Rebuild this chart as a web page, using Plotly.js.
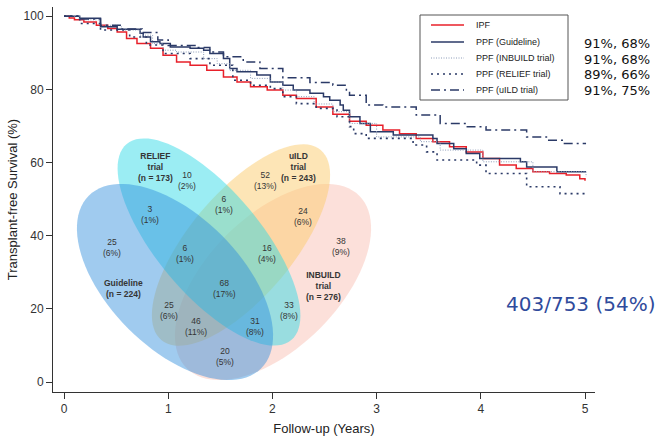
<!DOCTYPE html>
<html>
<head>
<meta charset="utf-8">
<script src="https://cdn.plot.ly/plotly-3.0.1.min.js"></script>
<style>html,body{margin:0;padding:0;background:#fff;}#chart{width:660px;height:436px;}</style>
</head>
<body>
<div id="chart"></div>
<script>
// ---------- Kaplan-Meier data (years, % transplant-free survival) ----------
const ipfTime = [0, 0.05, 0.1, 0.19, 0.31, 0.42, 0.51, 0.6, 0.7, 0.83, 0.95, 1.08, 1.21, 1.37, 1.53, 1.66, 1.79, 1.95, 2.10, 2.23, 2.42, 2.58, 2.74, 2.90, 3.06, 3.22, 3.38, 3.54, 3.70, 3.86, 4.02, 4.18, 4.34, 4.50, 4.66, 4.82, 4.95, 5.0];
const ipfSurv = [100, 99.5, 99, 98.4, 97.5, 96.6, 95.7, 93.9, 92.5, 91.2, 89.3, 87.5, 86.6, 85.2, 83.4, 82.0, 80.7, 79.8, 78.4, 77.5, 75.2, 73.2, 71.3, 70.2, 68.9, 67.9, 66.6, 65.7, 64.3, 62.9, 61.1, 59.3, 58.4, 57.5, 57.0, 56.6, 55.6, 55.0];

const guideTime = [0, 0.15, 0.35, 0.51, 0.73, 0.76, 0.83, 0.92, 1.02, 1.21, 1.34, 1.40, 1.53, 1.59, 1.66, 1.85, 1.98, 2.10, 2.20, 2.36, 2.49, 2.55, 2.65, 2.68, 2.74, 2.84, 2.94, 3.16, 3.54, 3.58, 3.74, 3.86, 3.99, 4.38, 4.44, 4.73, 5.01];
const guideSurv = [100, 99.4, 97.1, 96.4, 95.3, 94.3, 93.0, 92.5, 91.6, 91.2, 90.7, 89.8, 88.4, 85.7, 84.8, 83.9, 82.0, 81.1, 79.8, 78.9, 78.0, 77.0, 75.7, 74.3, 72.5, 70.7, 68.4, 67.5, 66.6, 65.2, 63.8, 62.5, 61.1, 60.2, 58.8, 57.5, 57.5];

const inbuildTime = [0, 0.15, 0.35, 0.55, 0.73, 0.85, 0.95, 1.08, 1.34, 1.47, 1.59, 1.79, 1.98, 2.10, 2.23, 2.40, 2.58, 2.74, 3.00, 3.42, 3.61, 4.02, 4.50, 5.01];
const inbuildSurv = [100, 99, 97.5, 96.2, 94.8, 92.5, 90.7, 90.2, 88.4, 87.0, 85.2, 83.0, 82.0, 79.8, 78.0, 76.0, 73.9, 70.7, 67.0, 65.7, 63.4, 60.2, 57.5, 56.1];

const reliefTime = [0, 0.15, 0.35, 0.63, 0.79, 0.95, 1.21, 1.40, 1.62, 1.79, 1.98, 2.10, 2.23, 2.42, 2.62, 2.74, 2.78, 2.90, 3.35, 3.48, 3.58, 3.96, 4.05, 4.44, 4.76, 5.01];
const reliefSurv = [100, 98.0, 96.2, 94.3, 92.1, 89.8, 88.4, 86.6, 82.5, 81.1, 80.2, 78.0, 76.1, 74.8, 72.5, 69.8, 67.9, 66.6, 64.8, 62.9, 60.7, 59.3, 57.0, 53.4, 51.5, 51.5];

const uildTime = [0, 0.15, 0.35, 0.55, 0.75, 0.9, 1.0, 1.27, 1.40, 1.53, 1.72, 1.88, 2.10, 2.36, 2.58, 2.71, 2.74, 2.90, 3.06, 3.38, 3.61, 3.86, 4.05, 4.44, 4.63, 4.79, 5.01];
const uildSurv = [100, 99.2, 97.5, 96.5, 95.5, 93.5, 92.0, 91.4, 90.2, 88.9, 87.5, 85.7, 83.2, 81.9, 81.1, 79.8, 78.4, 75.7, 75.2, 73.0, 70.7, 69.8, 68.9, 67.0, 66.1, 65.2, 65.2];

const seriesNames = ["IPF", "PPF (Guideline)", "PPF (INBUILD trial)", "PPF (RELIEF trial)", "PPF (uILD trial)"];
// 1-year and 3-year survival text per PPF definition
const survText = ["91%, 68%", "91%, 68%", "89%, 66%", "91%, 75%"];
const totalText = "403/753 (54%)";

const xTicks = [0, 1, 2, 3, 4, 5];
const yTicks = [0, 20, 40, 60, 80, 100];

// ---------- Venn data ----------
const setNames = ["Guideline", "RELIEF<br>trial", "uILD<br>trial", "INBUILD<br>trial"];
const setN = [224, 173, 243, 276];
const regionCounts = [25, 10, 52, 38, 3, 6, 24, 6, 16, 68, 25, 46, 33, 31, 20];
const regionPct    = [6, 2, 13, 9, 1, 1, 6, 1, 4, 17, 6, 11, 8, 8, 5];

// ---------- layout geometry (pixels in the 660x436 frame) ----------
const M = {l: 53, r: 65, t: 7, b: 44};
const FW = 660, FH = 436;
const PW = FW - M.l - M.r, PH = FH - M.t - M.b;
const px2x = p => (p - M.l) / PW;
const py2y = p => (FH - M.b - p) / PH;

// ellipses: [cx, cy, a, b, rotation deg], colour
const ellGeom = {
  Guideline: {g: [175, 282, 122, 66, 45], c: "rgba(45,140,220,0.45)"},
  RELIEF:    {g: [209, 242, 128, 52, 50], c: "rgba(45,218,230,0.48)"},
  uILD:      {g: [241, 245, 124, 52, -50], c: "rgba(252,204,110,0.5)"},
  INBUILD:   {g: [273, 282, 122, 66, -45], c: "rgba(248,190,178,0.48)"}
};
const drawOrder = ["INBUILD", "uILD", "RELIEF", "Guideline"];

function ellipsePath(g) {
  const [cx, cy, a, b, rot] = g;
  const th = rot * Math.PI / 180;
  let d = "";
  for (let i = 0; i <= 96; i++) {
    const f = 2 * Math.PI * i / 96;
    const dx = a * Math.cos(f) * Math.cos(th) - b * Math.sin(f) * Math.sin(th);
    const dy = a * Math.cos(f) * Math.sin(th) + b * Math.sin(f) * Math.cos(th);
    d += (i === 0 ? "M" : "L") + px2x(cx + dx).toFixed(5) + "," + py2y(cy + dy).toFixed(5);
  }
  return d + "Z";
}

const shapes = drawOrder.map(k => ({
  type: "path", xref: "paper", yref: "paper", layer: "below",
  path: ellipsePath(ellGeom[k].g), fillcolor: ellGeom[k].c, line: {width: 0}
}));

// text positions for Venn labels
const setLabelPos = [[123, 288], [155, 167], [298, 167], [323, 286]];
const regionPos = [[112, 247], [187, 180], [265, 180], [341, 246], [150, 215], [224, 205], [303, 216],
                   [185, 253], [267, 253], [224, 288], [169, 310], [196, 326], [289, 310], [255, 326], [225, 356]];

const vennFont = {family: "Liberation Sans, Arial, sans-serif", size: 8.5, color: "#353535"};
const annotations = [];
setNames.forEach((s, i) => annotations.push({
  xref: "paper", yref: "paper", x: px2x(setLabelPos[i][0]), y: py2y(setLabelPos[i][1]),
  text: "<b>" + s + "<br>(n = " + setN[i] + ")</b>", showarrow: false, font: vennFont,
  xanchor: "center", yanchor: "middle"
}));
regionCounts.forEach((c, i) => annotations.push({
  xref: "paper", yref: "paper", x: px2x(regionPos[i][0]), y: py2y(regionPos[i][1]),
  text: c + "<br>(" + regionPct[i] + "%)", showarrow: false, font: vennFont,
  xanchor: "center", yanchor: "middle"
}));

// ---------- drawn legend box ----------
const legBox = {x0: 420, x1: 568, y0: 15, y1: 100};
const legRowY = [25, 42, 58, 74, 90];
const navy = "#2b3a67";
const lineStyles = [
  {color: "#e8202a", width: 1.5},
  {color: navy, width: 1.5},
  {color: "#8d9cb8", width: 1, dash: "1px,1.5px"},
  {color: navy, width: 1.6, dash: "2px,4px"},
  {color: navy, width: 1.5, dash: "9px,4px,2px,4px"}
];
shapes.push({type: "rect", xref: "paper", yref: "paper", x0: px2x(legBox.x0), x1: px2x(legBox.x1),
             y0: py2y(legBox.y0), y1: py2y(legBox.y1), line: {color: "#555", width: 1}, fillcolor: "#fff", layer: "above"});
seriesNames.forEach((nm, i) => {
  shapes.push({type: "line", xref: "paper", yref: "paper", x0: px2x(431), x1: px2x(464),
               y0: py2y(legRowY[i]), y1: py2y(legRowY[i]), line: lineStyles[i], layer: "above"});
  annotations.push({xref: "paper", yref: "paper", x: px2x(474), y: py2y(legRowY[i]), text: nm,
                    showarrow: false, xanchor: "left", yanchor: "middle",
                    font: {family: "Liberation Sans, Arial, sans-serif", size: 9, color: "#222"}});
});
survText.forEach((s, i) => annotations.push({
  xref: "paper", yref: "paper", x: px2x(582), y: py2y(legRowY[i + 1] + 1), text: s,
  showarrow: false, xanchor: "left", yanchor: "middle",
  font: {family: "DejaVu Sans, Verdana, sans-serif", size: 13, color: "#111"}
}));
annotations.push({
  xref: "paper", yref: "paper", x: px2x(581), y: py2y(304), text: totalText, showarrow: false,
  xanchor: "center", yanchor: "middle",
  font: {family: "DejaVu Sans, Verdana, sans-serif", size: 20, color: "#2f4b9c"}
});

const series = [[ipfTime, ipfSurv], [guideTime, guideSurv], [inbuildTime, inbuildSurv], [reliefTime, reliefSurv], [uildTime, uildSurv]];
const traces = series.map((s, i) => ({
  type: "scatter", mode: "lines", hoverinfo: "skip", x: s[0], y: s[1], name: seriesNames[i],
  line: Object.assign({shape: "hv"}, lineStyles[i])
}));

const axFont = {family: "Liberation Sans, Arial, sans-serif", size: 12, color: "#333"};
const layout = {
  width: FW, height: FH, margin: M,
  paper_bgcolor: "#fff", plot_bgcolor: "#fff",
  font: axFont,
  showlegend: false,
  xaxis: {range: [-0.106, 5.096], tickvals: xTicks, ticks: "outside", ticklen: 6, tickcolor: "#333",
          showline: true, linecolor: "#333", linewidth: 1, showgrid: false, zeroline: false,
          tickfont: axFont, title: {text: "Follow-up (Years)", font: {family: "Liberation Sans, Arial, sans-serif", size: 13, color: "#222"}, standoff: 8}},
  yaxis: {range: [-2.7, 102.5], tickvals: yTicks, ticks: "outside", ticklen: 6, tickcolor: "#333",
          showline: true, linecolor: "#333", linewidth: 1, showgrid: false, zeroline: false,
          tickfont: axFont, title: {text: "Transplant-free Survival (%)", font: {family: "Liberation Sans, Arial, sans-serif", size: 13, color: "#222"}, standoff: 3}},
  shapes: shapes,
  annotations: annotations
};

Plotly.newPlot("chart", traces, layout, {staticPlot: true, displayModeBar: false});
</script>
</body>
</html>
